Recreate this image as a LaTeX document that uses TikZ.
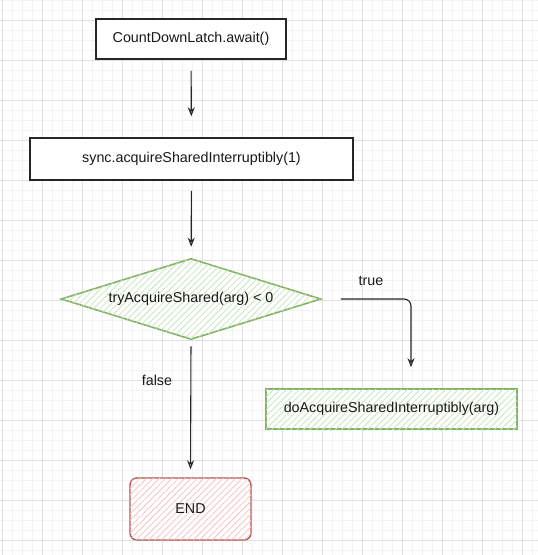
\documentclass[tikz,border=0pt]{standalone}
\usepackage{fontspec}
\setmainfont{Liberation Sans}
\usetikzlibrary{shapes.geometric,arrows.meta,patterns.meta}
\definecolor{gminor}{HTML}{F3F3F3}
\definecolor{gmajor}{HTML}{E0E0E0}
\definecolor{gstroke}{HTML}{82B366}
\definecolor{ghatch}{HTML}{C8E6BC}
\definecolor{rstroke}{HTML}{B85450}
\definecolor{rhatch}{HTML}{F6C4C2}
\begin{document}
\begin{tikzpicture}[x=1pt,y=-1pt,
  every node/.style={font=\fontsize{14.3pt}{17pt}\selectfont, text=black!90},
  plainbox/.style={draw=black!85, line width=1.5pt, fill=white, rectangle, inner sep=0pt},
  greenhatch/.style={draw=gstroke, line width=1.6pt, fill=white,
    postaction={pattern={Lines[angle=45,distance=4.5pt,line width=0.8pt]}, pattern color=ghatch}},
  redhatch/.style={draw=rstroke, line width=1.4pt, fill=white, rounded corners=7pt,
    postaction={pattern={Lines[angle=45,distance=4.5pt,line width=0.8pt]}, pattern color=rhatch}},
  conn/.style={draw=black!85, line width=1.1pt, -{Stealth[open,length=9pt,width=7pt]}},
  lbl/.style={inner sep=0pt}
]
\useasboundingbox (0,0) rectangle (538,555);
\fill[white] (0,0) rectangle (538,555);
\foreach \x in {2,12,...,532} \draw[gminor, line width=0.6pt] (\x,0) -- (\x,555);
\foreach \y in {0,10,...,550} \draw[gminor, line width=0.6pt] (0,\y) -- (538,\y);
\foreach \x in {2,42,...,522} \draw[gmajor, line width=0.7pt] (\x,0) -- (\x,555);
\foreach \y in {20,60,...,540} \draw[gmajor, line width=0.7pt] (0,\y) -- (538,\y);

\node[plainbox, minimum width=190pt, minimum height=40pt] (a) at (191,39) {CountDownLatch.await()};
\node[plainbox, minimum width=323pt, minimum height=42pt] (b) at (191.5,159) {sync.acquireSharedInterruptibly(1)};
\node[greenhatch, diamond, aspect=3.2, inner sep=0pt, minimum width=260pt, minimum height=81pt] (c) at (191,299) {tryAcquireShared(arg) < 0};
\node[greenhatch, rectangle, inner sep=0pt, minimum width=251pt, minimum height=40pt] (d) at (391.5,409) {doAcquireSharedInterruptibly(arg)};
\node[redhatch, rectangle, inner sep=0pt, minimum width=121pt, minimum height=62pt] (e) at (190.5,509) {END};
\coordinate (tc) at (411,299);

\draw[conn, shorten <=11pt, shorten >=21pt] (a) -- (b);
\draw[conn, shorten <=10pt, shorten >=11pt] (b) -- (c);
\draw[conn, shorten <=6pt, shorten >=8pt] (c.south) -- (e.north);
\draw[conn, rounded corners=7pt, shorten <=19pt, shorten >=21pt] (c.east) -- (tc) -- (tc |- d.north);
\node[lbl] (t) at (371,281) {true};
\node[lbl] (f) at (157,380) {false};
\end{tikzpicture}
\end{document}
